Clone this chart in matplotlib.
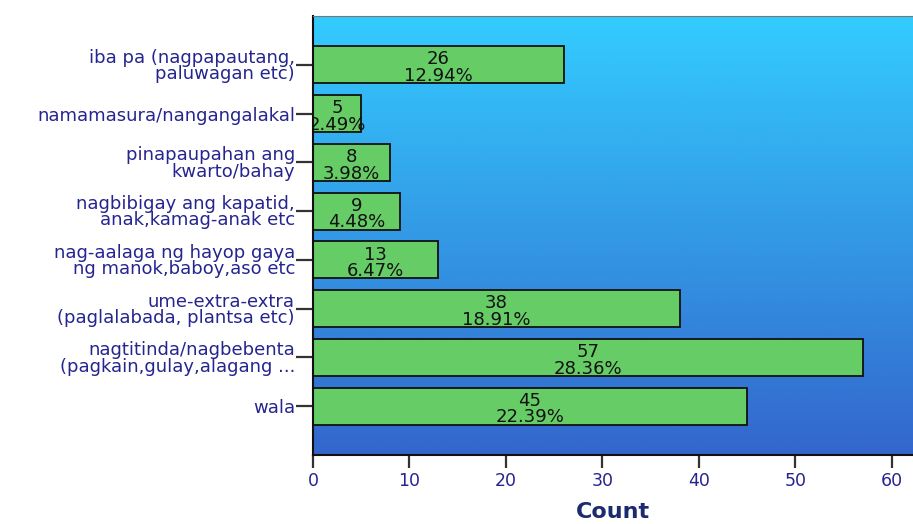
import matplotlib
matplotlib.use("Agg")
import matplotlib.pyplot as plt
import numpy as np
from matplotlib.colors import LinearSegmentedColormap

categories = [
    "iba pa (nagpapautang,\npaluwagan etc)",
    "namamasura/nangangalakal",
    "pinapaupahan ang\nkwarto/bahay",
    "nagbibigay ang kapatid,\nanak,kamag-anak etc",
    "nag-aalaga ng hayop gaya\nng manok,baboy,aso etc",
    "ume-extra-extra\n(paglalabada, plantsa etc)",
    "nagtitinda/nagbebenta\n(pagkain,gulay,alagang ...",
    "wala",
]
counts = [26, 5, 8, 9, 13, 38, 57, 45]
percents = ["12.94%", "2.49%", "3.98%", "4.48%", "6.47%", "18.91%", "28.36%", "22.39%"]
xticks = [0, 10, 20, 30, 40, 50, 60]

navy = "#25258f"

fig = plt.figure(figsize=(9.13, 5.24), dpi=100)
ax = fig.add_axes([313/913, 1-455/524, 600/913, (455-16)/524])

n = len(categories)
ypos = np.arange(n)[::-1]
xmax = 62.2

cmap = LinearSegmentedColormap.from_list("bg", ["#33ccff", "#3366cc"])
grad = np.linspace(0, 1, 256).reshape(-1, 1)
ax.imshow(grad, aspect="auto", cmap=cmap, extent=[0, xmax, -1, n],
          origin="upper", zorder=0)
ax.set_xlim(0, xmax)
ax.set_ylim(-1, n)

bars = ax.barh(ypos, counts, height=0.76, color="#66cc66", edgecolor="#111111",
               linewidth=1.3, zorder=2)
for b, c, p in zip(bars, counts, percents):
    cx = b.get_x() + b.get_width() / 2
    cy = b.get_y() + b.get_height() / 2
    t = ax.text(cx, cy - 0.06, f"{c}\n{p}", ha="center", va="center", fontsize=13,
                linespacing=0.9, color="#111111", zorder=3)
    t.set_clip_on(True)

ax.set_yticks(ypos)
ax.set_yticklabels(categories, fontsize=13, color=navy, linespacing=0.88)
ax.set_xticks(xticks)
ax.set_xticklabels([str(v) for v in xticks], fontsize=12.5, color=navy)
ax.tick_params(axis="y", length=12, width=1.6, color="#333333", pad=1)
ax.tick_params(axis="x", length=9, width=1.6, color="#333333", pad=3)
ax.set_xlabel("Count", fontsize=16, fontweight="bold", color="#1c2a70", labelpad=9)

for s in ["left", "bottom"]:
    ax.spines[s].set_color("#111111")
    ax.spines[s].set_linewidth(1.5)
ax.spines["top"].set_color("#777777")
ax.spines["right"].set_visible(False)

fig.savefig("out.png", dpi=100)
